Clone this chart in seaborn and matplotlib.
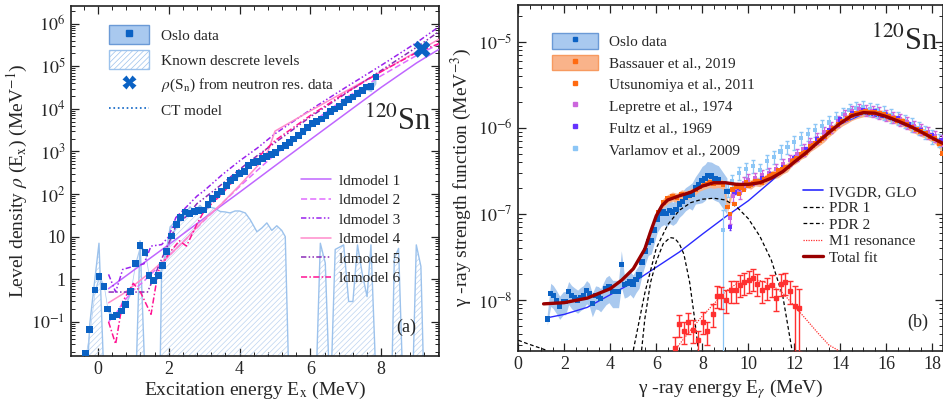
import numpy as np
import matplotlib
matplotlib.use("Agg")
import matplotlib.pyplot as plt
from matplotlib.lines import Line2D
from matplotlib.patches import Patch
from matplotlib.ticker import LogLocator, MultipleLocator, FuncFormatter, NullFormatter
import seaborn as sns

sns.set_theme(style="ticks")
plt.rcParams['font.family'] = ['Liberation Serif', 'DejaVu Serif']
plt.rcParams['mathtext.fontset'] = 'stix'
plt.rcParams['hatch.linewidth'] = 0.5

# ---------------- (a) level density ----------------
ld_E = [-0.34, -0.23, -0.085, 0.03, 0.17, 0.27, 0.42, 0.53, 0.67, 0.78, 0.92, 1.05, 1.19, 1.33,
        1.44, 1.58, 1.70, 1.83, 1.94, 2.08, 2.21, 2.34, 2.46, 2.59, 2.72, 2.85, 2.97, 3.11, 3.23,
        3.36, 3.49, 3.62, 3.74, 3.87, 4.00, 4.13, 4.26, 4.39, 4.51, 4.64, 4.77, 4.89, 5.02, 5.16,
        5.29, 5.41, 5.53, 5.66, 5.79, 5.92, 6.05, 6.18, 6.31, 6.44, 6.56, 6.69, 6.82, 6.95, 7.08,
        7.20, 7.33, 7.46, 7.59, 7.71, 7.85]
ld_rho = [0.018, 0.065, 0.56, 1.15, 0.67, 0.20, 0.13, 0.145, 0.18, 0.26, 0.51, 2.3, 6.1, 4.2,
          1.2, 0.93, 1.2, 2.1, 4.5, 10.4, 19, 28, 38, 35, 39, 41, 42, 57, 77,
          96, 115, 159, 204, 245, 297, 333, 478, 562, 590, 680, 760, 830, 950, 1210,
          1360, 1620, 1950, 2400, 2900, 3650, 4450, 5050, 5750, 6950, 8700, 9900, 11400, 14200, 16300,
          19000, 22600, 27000, 32500, 33700, 56000]
ld_err = [0.12] * 62 + [0.15, 0.25, 0.3]

sn_E = [9.15]
sn_rho = [2.5e5]

disc_E = [-0.76, -0.35, -0.23, 0.03, 0.20, 1.05, 1.19, 1.36, 1.74, 1.80, 1.94, 2.04, 2.18, 2.32,
          2.46, 2.60, 2.74, 2.88, 3.02, 3.17, 3.31, 3.45, 3.59, 3.73, 3.87, 4.00, 4.16, 4.30, 4.49,
          4.63, 4.77, 4.91, 5.05, 5.19, 5.29, 5.41, 6.14, 6.28, 6.42, 6.56, 6.70, 6.94, 7.08, 7.20,
          7.33, 7.46, 7.60, 7.71, 7.88, 8.28, 8.37, 8.49, 8.63, 8.87, 8.99, 9.12, 9.22, 9.63]
disc_rho = [1e-3, 1e-3, 0.09, 7.0, 1e-3, 1e-3, 8.0, 1e-3, 1e-3, 1.8, 5, 17, 22, 25,
            31, 50, 39, 54, 42, 49, 46, 39, 38, 36, 40, 40, 36, 25, 13,
            16, 21, 14, 18, 14, 10, 1e-3, 1e-3, 7.0, 2.4, 1e-3, 5.0, 6.4, 0.3, 0.3,
            6.4, 1.4, 0.39, 6.4, 1e-3, 1e-3, 3.1, 5.3, 1e-3, 1e-3, 6.4, 2.0, 1e-3, 1e-3]

ldm1_E = [0.3, 1.0, 2.0, 3.0, 4.0, 5.0, 6.0, 7.0, 8.0, 9.0, 9.63]
ldm1 = [0.6, 1.6, 6.5, 27, 110, 460, 1900, 7800, 3.2e4, 1.2e5, 2.5e5]
ldm2_E = [0.3, 0.5, 0.7, 1.0, 1.3, 1.6, 2.0, 2.5, 3.0, 3.5, 4.0, 4.5, 5.0, 6.0, 7.0, 8.0, 9.0, 9.63]
ldm2 = [0.1, 0.15, 0.28, 0.55, 0.9, 1.6, 3.5, 9, 24, 60, 150, 360, 850, 4500, 1.8e4, 6.0e4, 1.8e5, 3.3e5]
ldm3_E = [0.3, 0.5, 0.7, 1.0, 1.3, 1.5, 1.8, 2.0, 2.2, 2.5, 2.8, 3.0, 3.5, 4.0, 4.5, 5.0, 6.0,
          7.0, 8.0, 9.0, 9.63]
ldm3 = [1.3, 0.5, 1.7, 2.0, 2.3, 6, 6.5, 10, 28, 50, 90, 120, 280, 600, 1200, 2600, 9500,
        3.2e4, 1.05e5, 3.6e5, 8.5e5]
ldm4_E = [0.3, 0.7, 1.0, 1.5, 2.0, 2.5, 3.0, 3.5, 4.0, 4.5, 4.8, 5.0, 6.0, 7.0, 8.0, 9.0, 9.63]
ldm4 = [0.28, 0.45, 0.7, 1.5, 3.5, 9, 25, 60, 160, 450, 1000, 3000, 9000, 2.6e4, 7.5e4, 2.2e5, 4.3e5]
ldm5_E = [0.3, 0.8, 1.2, 1.4, 1.6, 1.8, 2.0, 2.2, 2.5, 2.8, 3.0, 3.5, 4.0, 4.5, 5.0, 6.0, 7.0,
          8.0, 9.0, 9.63]
ldm5 = [0.5, 0.5, 0.5, 0.5, 1.2, 3, 7, 18, 30, 60, 80, 170, 380, 800, 1600, 6500, 2.3e4,
        8e4, 2.8e5, 6.5e5]
ldm6_E = [0.3, 0.5, 0.7, 1.0, 1.2, 1.5, 1.7, 2.0, 2.3, 2.5, 2.8, 3.0, 3.5, 4.0, 4.5, 5.0, 6.0,
          7.0, 8.0, 9.0, 9.63]
ldm6 = [0.1, 0.03, 0.3, 0.8, 0.5, 0.15, 1.5, 4, 8, 6, 20, 40, 100, 300, 700, 1800, 7000,
        2.4e4, 7.5e4, 2.1e5, 3.4e5]

# ---------------- (b) gamma strength ----------------
osl_E = [1.26, 1.41, 1.52, 1.67, 1.80, 1.96, 2.06, 2.19, 2.32, 2.43, 2.58, 2.70, 2.83, 2.97, 3.09,
         3.22, 3.36, 3.48, 3.58, 3.81, 3.94, 4.10, 4.23, 4.36, 4.48, 4.61, 4.74, 4.86, 4.99, 5.12,
         5.25, 5.38, 5.52, 5.65, 5.78, 5.91, 6.04, 6.20, 6.33, 6.45, 6.59, 6.72, 6.86, 7.00, 7.13,
         7.27, 7.43, 7.56, 7.70, 7.85, 7.99, 8.12, 8.21, 8.40, 8.55, 8.70, 9.07]
osl_f = [6.0e-9, 1.2e-8, 1.13e-8, 9.8e-9, 8.5e-9, 9.6e-9, 9.6e-9, 1.26e-8, 1.13e-8, 1.07e-8,
         1.0e-8, 1.07e-8, 1.13e-8, 1.29e-8, 1.2e-8, 9.1e-9, 1.12e-8, 1.1e-8, 1.04e-8, 1.35e-8,
         1.43e-8, 1.25e-8, 1.25e-8, 1.25e-8, 2.57e-8, 1.5e-8, 1.55e-8, 1.65e-8, 1.5e-8, 1.74e-8,
         1.95e-8, 2.76e-8, 3.7e-8, 4.7e-8, 4.9e-8, 6.5e-8, 8.7e-8, 1.02e-7, 1.07e-7, 1.02e-7,
         1.1e-7, 1.05e-7, 1.12e-7, 1.3e-7, 1.4e-7, 1.55e-7, 1.66e-7, 1.7e-7, 2.0e-7, 2.2e-7,
         2.45e-7, 2.6e-7, 2.8e-7, 2.75e-7, 2.6e-7, 2.5e-7, 1.8e-7]
osl_err = [0.15] + [0.3] * 18 + [0.35] * 5 + [0.45] + [0.3] * 22 + [0.35] * 2 + [0.4] + [0.45] * 7

bas_E = [6.1, 6.3, 6.5, 6.7, 6.9, 7.1, 7.3, 7.5, 7.7, 7.9, 8.1, 8.3, 8.5, 8.7, 8.9, 9.1, 9.3, 9.5,
         9.7, 9.9, 10.1, 10.3, 10.5, 10.7, 10.9, 11.1, 11.3, 11.5, 11.7, 11.9, 12.1, 12.3, 12.5,
         12.7, 12.9, 13.1, 13.3, 13.5, 13.7, 13.9, 14.1, 14.3, 14.5, 14.7, 14.9, 15.1, 15.3, 15.5,
         15.7, 15.9, 16.1, 16.3, 16.5, 16.7, 16.9, 17.1, 17.3, 17.5, 17.7, 17.9, 18.1, 18.3, 18.45]
bas_f = [1.05e-7, 1.35e-7, 1.5e-7, 1.6e-7, 1.55e-7, 1.7e-7, 1.65e-7, 1.75e-7, 1.9e-7, 2.1e-7,
         2.2e-7, 2.3e-7, 2.25e-7, 2.3e-7, 2.2e-7, 1.2e-7, 1.9e-7, 2.1e-7, 2.0e-7, 2.3e-7, 2.2e-7,
         2.4e-7, 2.35e-7, 2.5e-7, 2.7e-7, 2.9e-7, 3.0e-7, 3.3e-7, 3.5e-7, 4.1e-7, 4.4e-7, 4.9e-7,
         5.2e-7, 6.0e-7, 6.5e-7, 7.1e-7, 7.8e-7, 8.9e-7, 9.8e-7, 1.1e-6, 1.2e-6, 1.28e-6, 1.38e-6,
         1.45e-6, 1.5e-6, 1.55e-6, 1.5e-6, 1.52e-6, 1.45e-6, 1.42e-6, 1.35e-6, 1.3e-6, 1.22e-6,
         1.18e-6, 1.1e-6, 1.02e-6, 9.6e-7, 9.0e-7, 8.6e-7, 8.0e-7, 7.5e-7, 6.5e-7, 5.0e-7]

uts_E = [9.2, 9.4, 9.6, 9.8, 10.0, 10.2, 10.4, 10.6, 10.8, 11.0, 11.3, 11.6, 12.0, 12.4, 12.8, 13.2]
uts_f = [1.0e-7, 1.3e-7, 1.7e-7, 1.9e-7, 2.1e-7, 2.3e-7, 2.4e-7, 2.3e-7, 2.6e-7, 2.8e-7, 3.2e-7,
         3.5e-7, 4.2e-7, 5.0e-7, 6.2e-7, 7.5e-7]

lep_E = [9.2, 9.35, 9.5, 9.65, 9.8, 10.0, 10.3, 10.6, 10.9, 11.2, 11.5, 11.8, 12.1, 12.4, 12.7,
         13.0, 13.3, 13.6, 13.9, 14.2, 14.5, 14.8, 15.1, 15.4, 15.7, 16.0, 16.3, 16.6, 16.9, 17.2,
         17.5, 17.8, 18.1, 18.4]
lep_f = [9e-8, 1.6e-7, 2.0e-7, 1.75e-7, 2.3e-7, 2.5e-7, 2.6e-7, 2.8e-7, 3.0e-7, 3.3e-7, 3.8e-7,
         4.2e-7, 4.9e-7, 5.6e-7, 6.6e-7, 7.6e-7, 8.8e-7, 1.02e-6, 1.2e-6, 1.4e-6, 1.55e-6, 1.65e-6,
         1.62e-6, 1.55e-6, 1.5e-6, 1.4e-6, 1.33e-6, 1.25e-6, 1.15e-6, 1.05e-6, 9.6e-7, 8.8e-7,
         8.0e-7, 7.2e-7]

ful_E = [9.2, 9.4, 9.6, 9.9, 10.2, 10.6, 11.0, 11.5, 12.0, 12.5, 13.0, 13.5, 14.0, 14.5, 15.0,
         15.5, 16.0, 16.5, 17.0, 17.5, 18.0, 18.4]
ful_f = [7e-8, 1.8e-7, 2.0e-7, 2.2e-7, 2.3e-7, 2.6e-7, 2.9e-7, 3.5e-7, 4.5e-7, 5.6e-7, 7.3e-7,
         9.5e-7, 1.25e-6, 1.5e-6, 1.6e-6, 1.55e-6, 1.42e-6, 1.28e-6, 1.1e-6, 9.5e-7, 8.3e-7, 7.2e-7]

var_E = [8.9, 9.1, 9.3, 9.6, 9.9, 10.2, 10.5, 10.8, 11.1, 11.4, 11.7, 12.0, 12.3, 12.6, 12.9, 13.2,
         13.5, 13.8, 14.1, 14.4, 14.7, 15.0, 15.3, 15.6, 15.9, 16.2, 16.5, 16.8, 17.1, 17.4, 17.7,
         18.0, 18.3]
var_f = [6.5e-8, 1.9e-7, 2.4e-7, 3.0e-7, 3.3e-7, 3.6e-7, 3.2e-7, 4.1e-7, 4.6e-7, 5.3e-7, 6.0e-7,
         6.8e-7, 7.6e-7, 8.5e-7, 9.5e-7, 1.05e-6, 1.15e-6, 1.3e-6, 1.45e-6, 1.6e-6, 1.7e-6, 1.75e-6,
         1.65e-6, 1.6e-6, 1.5e-6, 1.4e-6, 1.3e-6, 1.2e-6, 1.1e-6, 1.0e-6, 9.0e-7, 8.0e-7, 7.2e-7]
# relative error bars (down, up)
var_rel_lo = [0.97] + [0.18] * 32
var_rel_hi = [0.7] + [0.18] * 32

m1_E = [6.81, 7.0, 7.22, 7.39, 7.61, 7.83, 8.01, 8.22, 8.45, 8.62, 8.80, 9.01, 9.23, 9.45, 9.64,
        9.83, 10.01, 10.22, 10.39, 10.59, 10.8, 11.01, 11.2, 11.4, 11.6, 11.81, 12.03, 12.22]
m1_f = [2.8e-9, 5.2e-9, 4.3e-9, 5.5e-9, 4.5e-9, 3.4e-9, 5.6e-9, 4.3e-9, 6.9e-9, 1.12e-8, 1.1e-8,
        1.0e-8, 1.3e-8, 1.3e-8, 1.5e-8, 1.6e-8, 1.7e-8, 1.78e-8, 1.55e-8, 1.3e-8, 1.4e-8, 1.5e-8,
        1.04e-8, 1.55e-8, 1.6e-8, 1.27e-8, 8.5e-9, 8.0e-9]
m1_err = [0.9e-9, 1.5e-9, 1.2e-9, 1.5e-9, 1.3e-9, 1.0e-9, 1.6e-9, 1.3e-9, 2.0e-9, 3.2e-9, 3.2e-9,
          3.0e-9, 3.8e-9, 3.8e-9, 4.3e-9, 4.6e-9, 4.9e-9, 5.1e-9, 4.5e-9, 3.8e-9, 4.0e-9, 4.3e-9,
          3.0e-9, 4.5e-9, 4.6e-9, 3.8e-9, 6.0e-9, 5.5e-9]

fit_E = [1.1, 2.0, 3.0, 4.0, 4.5, 5.0, 5.5, 5.75, 6.0, 6.25, 6.5, 7.0, 7.5, 8.0, 8.5, 9.0, 9.5,
         10.0, 10.5, 11.0, 11.5, 12.0, 12.5, 13.0, 13.5, 14.0, 14.5, 15.0, 15.5, 16.0, 16.5, 17.0,
         17.5, 18.0, 18.5]
fit_f = [9.0e-9, 9.3e-9, 1.05e-8, 1.35e-8, 1.7e-8, 2.3e-8, 3.9e-8, 6.2e-8, 9.5e-8, 1.25e-7,
         1.45e-7, 1.62e-7, 1.78e-7, 2.1e-7, 2.3e-7, 2.3e-7, 2.2e-7, 2.2e-7, 2.3e-7, 2.6e-7, 3.1e-7,
         4.0e-7, 5.1e-7, 6.7e-7, 8.8e-7, 1.13e-6, 1.38e-6, 1.5e-6, 1.48e-6, 1.35e-6, 1.2e-6,
         1.05e-6, 9.0e-7, 7.6e-7, 6.5e-7]

glo_E = [1.25, 2.0, 3.0, 4.0, 5.0, 6.0, 7.0, 8.0, 9.0, 10.0, 11.0, 12.0, 13.0, 14.0, 15.0, 16.0,
         17.0, 18.0, 18.5]
glo_f = [6.2e-9, 6.8e-9, 8.2e-9, 1.15e-8, 1.6e-8, 2.4e-8, 3.6e-8, 5.8e-8, 9.2e-8, 1.42e-7,
         2.4e-7, 4.2e-7, 6.6e-7, 1.1e-6, 1.45e-6, 1.3e-6, 1.02e-6, 7.5e-7, 6.4e-7]

pdr1_E = [5.36, 5.5, 5.75, 6.0, 6.3, 6.6, 6.8, 7.0, 7.2, 7.45, 7.65, 7.83]
pdr1_f = [2.6e-9, 6e-9, 1.6e-8, 2.8e-8, 4.5e-8, 5.3e-8, 5.2e-8, 4.5e-8, 3.4e-8, 1.6e-8, 6.5e-9, 2.6e-9]
pdr2_E = [5.0, 5.5, 6.0, 6.5, 7.0, 7.5, 8.0, 8.5, 9.0, 9.5, 10.0, 10.5, 11.0, 11.5, 11.9]
pdr2_f = [2.6e-9, 1.2e-8, 4.0e-8, 7.5e-8, 1.1e-7, 1.35e-7, 1.48e-7, 1.52e-7, 1.45e-7, 1.2e-7,
          8.8e-8, 5.5e-8, 2.9e-8, 1.1e-8, 2.6e-9]
tail_E = [0.0, 0.4, 0.8, 1.23]
tail_f = [3.4e-9, 3.1e-9, 2.85e-9, 2.6e-9]

m1fit_E = [6.8, 7.5, 8.0, 8.5, 9.0, 9.5, 10.0, 10.5, 11.0, 11.5, 12.0, 12.5, 13.0, 13.5, 13.9]
m1fit_f = [2.6e-9, 4.5e-9, 6.5e-9, 9e-9, 1.25e-8, 1.55e-8, 1.7e-8, 1.68e-8, 1.5e-8, 1.2e-8,
           8.5e-9, 6e-9, 4.2e-9, 3e-9, 2.6e-9]

# colours
OSLO = '#0b62c4'
OSLO_BAND = '#a9c9ef'
DISC = '#9cc2ec'
HATCH = '#bcd3f0'
ORANGE = '#ff6a10'
ORANGE_BAND = '#f9b38a'
LEP = '#cc66dd'
FUL = '#6633ff'
VAR = '#8cc6f6'
M1 = '#ff3030'
FIT = '#990000'
GLO = '#2a2aff'

dashdotdot = (0, (3.5, 1.5, 1, 1.5, 1, 1.5))
ld_styles = [
    ('ldmodel 1', ldm1_E, ldm1, '#c066ff', '-'),
    ('ldmodel 2', ldm2_E, ldm2, '#e06cff', (0, (4, 2))),
    ('ldmodel 3', ldm3_E, ldm3, '#9a22ee', dashdotdot),
    ('ldmodel 4', ldm4_E, ldm4, '#ff8ccc', '-'),
    ('ldmodel 5', ldm5_E, ldm5, '#8a2cb8', dashdotdot),
    ('ldmodel 6', ldm6_E, ldm6, '#ff1493', (0, (4, 1.5, 1, 1.5))),
]

TICK = 13
LAB = 14
LEG = 11

fig = plt.figure(figsize=(9.43, 4.13), dpi=100)
ax1 = fig.add_axes([0.0753, 0.1387, 0.3902, 0.8468])
ax2 = fig.add_axes([0.5496, 0.1508, 0.4501, 0.8371])


def line(ax, x, y, color, ls='-', lw=1.0, z=3):
    sns.lineplot(x=x, y=y, ax=ax, color=color, linestyle=ls, linewidth=lw,
                 sort=False, estimator=None, zorder=z)


# ---- panel (a)
ax1.fill_between(disc_E, 1e-4, disc_rho, facecolor='none', edgecolor=HATCH, hatch='//////',
                 linewidth=0, zorder=1)
line(ax1, disc_E, disc_rho, DISC, lw=1.0, z=2)
lde = np.array(ld_E)
ldr = np.array(ld_rho)
lderr = np.array(ld_err)
ax1.fill_between(lde, ldr * (1 - lderr), ldr * (1 + lderr), color=OSLO_BAND, linewidth=0, zorder=3)
for lab, xx, yy, c, ls in ld_styles:
    line(ax1, xx, yy, c, ls=ls, lw=1.1, z=4)
sns.scatterplot(x=ld_E, y=ld_rho, ax=ax1, marker='s', s=24, color=OSLO, edgecolor='none', zorder=6)
sns.scatterplot(x=sn_E, y=sn_rho, ax=ax1, marker='X', s=150, color=OSLO, edgecolor='none', zorder=7)

ax1.set_yscale('log')
ax1.set_xlim(-0.76, 9.63)
ax1.set_ylim(0.016, 2.6e6)


def ld_fmt(v, pos):
    n = int(round(np.log10(v)))
    if n == 0:
        return '1'
    if n == 1:
        return '10'
    return r'$10^{%d}$' % n


ax1.yaxis.set_major_locator(LogLocator(base=10, numticks=20))
ax1.yaxis.set_minor_locator(LogLocator(base=10, subs=np.arange(2, 10), numticks=20))
ax1.yaxis.set_major_formatter(FuncFormatter(ld_fmt))
ax1.yaxis.set_minor_formatter(NullFormatter())
ax1.xaxis.set_major_locator(MultipleLocator(2))
ax1.xaxis.set_minor_locator(MultipleLocator(0.4))
ax1.set_xlabel(r'Excitation energy E$_\mathrm{x}$ (MeV)', fontsize=LAB, labelpad=1)
ax1.set_ylabel(r'Level density $\rho$ (E$_\mathrm{x}$) (MeV$^{-1}$)', fontsize=LAB, labelpad=1)

h1 = [(Patch(facecolor=OSLO_BAND, edgecolor='#6b9ad6'),
       Line2D([], [], marker='s', ls='none', color=OSLO, ms=4)),
      Patch(facecolor='white', edgecolor=DISC, hatch='//////'),
      Line2D([], [], marker='X', ls='none', color=OSLO, ms=10, mec='none'),
      Line2D([], [], ls=':', color=OSLO, lw=1.2)]
l1 = ax1.legend(h1, ['Oslo data', 'Known descrete levels', r'$\rho$(S$_\mathrm{n}$) from neutron res. data',
                     'CT model'], loc='upper left', bbox_to_anchor=(0.075, 0.975), frameon=False,
                fontsize=LEG, handlelength=2.6, handleheight=1.5, labelspacing=0.4, borderpad=0.2)
ax1.add_artist(l1)
h2 = [Line2D([], [], color=c, ls=ls, lw=1.1) for lab, xx, yy, c, ls in ld_styles]
ax1.legend(h2, [s[0] for s in ld_styles], loc='upper left', bbox_to_anchor=(0.595, 0.55),
           frameon=False, fontsize=LEG, handlelength=2.0, labelspacing=0.38, borderpad=0.2,
           handletextpad=0.5)

ax1.text(0.887, 0.668, r'$^{120}$Sn', transform=ax1.transAxes, fontsize=22, ha='center', va='center')
ax1.text(0.91, 0.08, '(a)', transform=ax1.transAxes, fontsize=13, ha='center', va='center')

# ---- panel (b)
oe = np.array(osl_E)
of = np.array(osl_f)
oerr = np.array(osl_err)
ax2.fill_between(oe, of * (1 - oerr), of * (1 + oerr), color=OSLO_BAND, linewidth=0, zorder=1)
be = np.array(bas_E)
bf = np.array(bas_f)
ax2.fill_between(be, bf * 0.88, bf * 1.12, color=ORANGE_BAND, linewidth=0, zorder=2)

line(ax2, tail_E, tail_f, 'black', ls=(0, (3, 2)), lw=0.9, z=3)
line(ax2, glo_E, glo_f, GLO, lw=1.0, z=3)
line(ax2, pdr1_E, pdr1_f, 'black', ls=(0, (3, 2)), lw=0.9, z=3)
line(ax2, pdr2_E, pdr2_f, 'black', ls=(0, (3, 2)), lw=0.9, z=3)
line(ax2, m1fit_E, m1fit_f, M1, ls=(0, (1, 1)), lw=0.9, z=3)

vf = np.array(var_f)
ax2.errorbar(var_E, var_f, yerr=[vf * np.array(var_rel_lo), vf * np.array(var_rel_hi)], fmt='none',
             ecolor=VAR, elinewidth=0.9, capsize=1.2, zorder=4)
sns.scatterplot(x=var_E, y=var_f, ax=ax2, marker='s', s=9, color=VAR, edgecolor='none', zorder=5)
lf = np.array(lep_f)
ax2.errorbar(lep_E, lep_f, yerr=lf * 0.15, fmt='none', ecolor=LEP, elinewidth=0.9, capsize=1.2, zorder=4)
sns.scatterplot(x=lep_E, y=lep_f, ax=ax2, marker='s', s=9, color=LEP, edgecolor='none', zorder=5)
ff = np.array(ful_f)
ax2.errorbar(ful_E, ful_f, yerr=ff * 0.06, fmt='none', ecolor=FUL, elinewidth=0.8, capsize=1, zorder=4)
sns.scatterplot(x=ful_E, y=ful_f, ax=ax2, marker='s', s=9, color=FUL, edgecolor='none', zorder=5)
sns.scatterplot(x=uts_E, y=uts_f, ax=ax2, marker='s', s=10, color=ORANGE, edgecolor='none', zorder=5)
sns.scatterplot(x=bas_E, y=bas_f, ax=ax2, marker='s', s=12, color=ORANGE, edgecolor='none', zorder=5)
sns.scatterplot(x=osl_E, y=osl_f, ax=ax2, marker='s', s=14, color=OSLO, edgecolor='none', zorder=6)

ax2.errorbar(m1_E, m1_f, yerr=m1_err, fmt='s', color=M1, ms=3, elinewidth=1.0, capsize=2, zorder=6)
line(ax2, fit_E, fit_f, FIT, lw=2.4, z=7)

ax2.set_yscale('log')
ax2.set_xlim(0, 18.45)
ax2.set_ylim(2.57e-9, 2.67e-5)
ax2.yaxis.set_major_locator(LogLocator(base=10, numticks=20))
ax2.yaxis.set_minor_locator(LogLocator(base=10, subs=np.arange(2, 10), numticks=20))
ax2.yaxis.set_major_formatter(FuncFormatter(ld_fmt))
ax2.yaxis.set_minor_formatter(NullFormatter())
ax2.xaxis.set_major_locator(MultipleLocator(2))
ax2.xaxis.set_minor_locator(MultipleLocator(0.5))
ax2.set_xlabel(r'γ -ray energy E$_{\gamma}$ (MeV)', fontsize=LAB, labelpad=3)
ax2.set_ylabel(r'γ -ray strength function (MeV$^{-3}$)', fontsize=LAB, labelpad=3)

h3 = [(Patch(facecolor=OSLO_BAND, edgecolor='#6b9ad6'),
       Line2D([], [], marker='s', ls='none', color=OSLO, ms=3)),
      (Patch(facecolor=ORANGE_BAND, edgecolor='#f79a60'),
       Line2D([], [], marker='s', ls='none', color=ORANGE, ms=3)),
      Line2D([], [], marker='s', ls='none', color=ORANGE, ms=3),
      Line2D([], [], marker='s', ls='none', color=LEP, ms=3),
      Line2D([], [], marker='s', ls='none', color=FUL, ms=3),
      Line2D([], [], marker='s', ls='none', color=VAR, ms=3)]
l3 = ax2.legend(h3, ['Oslo data', 'Bassauer et al., 2019', 'Utsunomiya et al., 2011',
                     'Lepretre et al., 1974', 'Fultz et al., 1969', 'Varlamov et al., 2009'],
                loc='upper left', bbox_to_anchor=(0.055, 0.95), frameon=False, fontsize=LEG,
                handlelength=3.0, handleheight=1.2, labelspacing=0.37, borderpad=0.2,
                handletextpad=0.7)
ax2.add_artist(l3)
h4 = [Line2D([], [], color=GLO, lw=1.2),
      Line2D([], [], color='black', ls=(0, (3, 2)), lw=0.9),
      Line2D([], [], color='black', ls=(0, (3, 2)), lw=0.9),
      Line2D([], [], color=M1, ls=(0, (1, 1)), lw=0.9),
      Line2D([], [], color=FIT, lw=2.4)]
ax2.legend(h4, ['IVGDR, GLO', 'PDR 1', 'PDR 2', 'M1 resonance', 'Total fit'], loc='upper left',
           bbox_to_anchor=(0.645, 0.51), frameon=False, fontsize=LEG, handlelength=1.3,
           labelspacing=0.18, borderpad=0.2, handletextpad=0.45)

ax2.text(0.911, 0.893, r'$^{120}$Sn', transform=ax2.transAxes, fontsize=22, ha='center', va='center')
ax2.text(0.942, 0.083, '(b)', transform=ax2.transAxes, fontsize=13, ha='center', va='center')

for ax in (ax1, ax2):
    ax.tick_params(which='both', direction='in', top=True, right=True, labelsize=TICK, pad=4,
                   color='#222222')
    ax.tick_params(which='major', length=6, width=0.9)
    ax.tick_params(which='minor', length=3, width=0.7)
    for sp in ax.spines.values():
        sp.set_linewidth(1.2)
        sp.set_color('#222222')

fig.savefig('out.png', dpi=100)
